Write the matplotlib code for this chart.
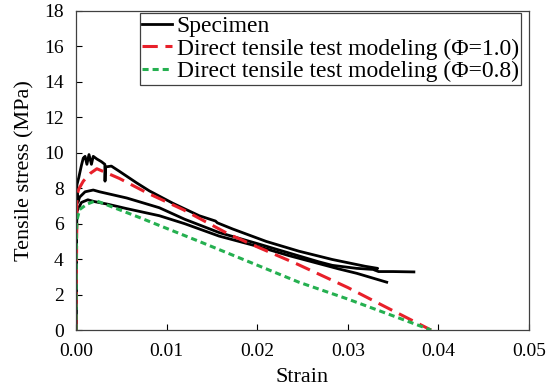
import matplotlib
matplotlib.use("Agg")
import matplotlib.pyplot as plt

plt.rcParams["font.family"] = ["Liberation Serif", "DejaVu Serif"]

# --- specimen curves (three tests) ---
strain_a = [0, 0.00005, 0.0001, 0.0003, 0.0006, 0.0008, 0.0010, 0.0012, 0.00143,
            0.0017, 0.0019, 0.0023, 0.0028, 0.00318, 0.0032, 0.00325, 0.0039, 0.0048,
            0.0067, 0.0081, 0.0107, 0.0136, 0.0154, 0.0156, 0.0173, 0.0210, 0.0246,
            0.0283, 0.0319, 0.0333, 0.0330]
stress_a = [0, 7.0, 8.2, 8.6, 9.3, 9.7, 9.8, 9.35, 9.9,
            9.35, 9.8, 9.65, 9.5, 9.35, 8.4, 9.2, 9.25, 8.95,
            8.3, 7.85, 7.15, 6.45, 6.15, 6.05, 5.7, 5.0, 4.45,
            3.98, 3.6, 3.48, 3.42]

strain_b = [0, 0.00005, 0.0001, 0.0002, 0.0004, 0.0010, 0.0019, 0.0026, 0.0056,
            0.0092, 0.0120, 0.0158, 0.0202, 0.0235, 0.0268, 0.0283, 0.0310, 0.0328,
            0.0334, 0.0350, 0.0373]
stress_b = [0, 6.5, 8.0, 7.2, 7.5, 7.8, 7.9, 7.8, 7.45,
            6.9, 6.25, 5.5, 4.85, 4.35, 3.85, 3.65, 3.48, 3.42,
            3.3, 3.3, 3.28]

strain_c = [0, 0.00005, 0.0001, 0.0003, 0.0006, 0.0013, 0.0020, 0.0035, 0.0056,
            0.0092, 0.0120, 0.0158, 0.0202, 0.0235, 0.0268, 0.0290, 0.0310, 0.0343]
stress_c = [0, 5.0, 6.7, 6.9, 7.2, 7.35, 7.25, 7.1, 6.85,
            6.45, 6.0, 5.3, 4.7, 4.2, 3.75, 3.45, 3.2, 2.7]

# --- direct tensile test modeling ---
strain_phi10 = [0, 0.0001, 0.0003, 0.0008, 0.0016, 0.0023, 0.0030, 0.0048, 0.0078,
                0.0118, 0.0169, 0.0202, 0.0243, 0.0300, 0.0340, 0.0392]
stress_phi10 = [0, 7.6, 7.95, 8.4, 8.85, 9.1, 8.95, 8.55, 7.75,
                6.8, 5.4, 4.65, 3.75, 2.4, 1.35, 0]

strain_phi08 = [0, 0.00005, 0.0001, 0.0004, 0.0012, 0.0022, 0.0070, 0.0136,
                0.0246, 0.0300, 0.0358, 0.0392]
stress_phi08 = [0, 5.5, 6.2, 6.8, 7.1, 7.3, 6.35, 5.0,
                2.7, 1.75, 0.65, 0]

labels = ["Specimen",
          "Direct tensile test modeling (\u03a6=1.0)",
          "Direct tensile test modeling (\u03a6=0.8)"]

fig = plt.figure(figsize=(5.55, 3.92), dpi=100)
ax = fig.add_axes([0.137, 0.158, 0.816, 0.814])

ax.plot(strain_a, stress_a, color="black", lw=2.0, label=labels[0])
ax.plot(strain_b, stress_b, color="black", lw=2.0)
ax.plot(strain_c, stress_c, color="black", lw=2.0)
ax.plot(strain_phi10, stress_phi10, color="#E8202A", lw=2.2,
        dashes=(5, 2.5), label=labels[1])
ax.plot(strain_phi08, stress_phi08, color="#25B050", lw=2.2,
        dashes=(2, 1.3), label=labels[2])

ax.set_xlim(0, 0.05)
ax.set_ylim(0, 18)
ax.set_xticks([0, 0.01, 0.02, 0.03, 0.04, 0.05])
ax.set_xticklabels(["0.00", "0.01", "0.02", "0.03", "0.04", "0.05"])
ax.set_yticks(range(0, 19, 2))
ax.tick_params(direction="in", length=4, width=0.8, labelsize=14, pad=9,
               top=False, right=False)
for s in ax.spines.values():
    s.set_linewidth(0.9)
    s.set_color("#404040")

ax.set_xlabel("Strain", fontsize=16, labelpad=6)
ax.set_ylabel("Tensile stress (MPa)", fontsize=16, labelpad=7)

leg = ax.legend(loc="upper right", bbox_to_anchor=(521 / 555, 1 - 13 / 392),
                bbox_transform=fig.transFigure, fontsize=17, frameon=True,
                fancybox=False, edgecolor="#404040", framealpha=1,
                handlelength=1.25, handletextpad=0.2, labelspacing=0.05,
                borderpad=0.1, borderaxespad=0)
leg.get_frame().set_linewidth(0.9)

fig.savefig("out.png", dpi=100)
